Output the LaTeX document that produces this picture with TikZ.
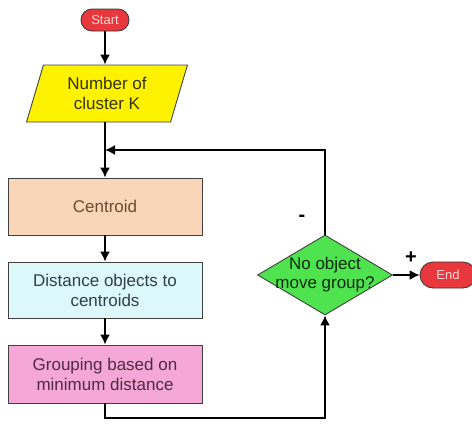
\documentclass[tikz,border=0pt]{standalone}
\usepackage{fontspec}
\setmainfont{Liberation Sans}
\usetikzlibrary{shapes.geometric,shapes.misc,arrows.meta}
\definecolor{termred}{HTML}{E8383D}
\definecolor{paryel}{HTML}{FFF200}
\definecolor{cenfill}{HTML}{FAD6B8}
\definecolor{disfill}{HTML}{DDF8FB}
\definecolor{grpfill}{HTML}{F5A8D8}
\definecolor{diafill}{HTML}{4FE34F}
\definecolor{centxt}{HTML}{6A4A30}
\definecolor{distxt}{HTML}{2F3E4E}
\definecolor{grptxt}{HTML}{4E2A44}
\definecolor{partxt}{HTML}{333300}
\definecolor{diatxt}{HTML}{0F2A0F}
\tikzset{
  term/.style={rounded rectangle, draw=black!80, line width=0.8pt, fill=termred,
    minimum width=48pt, minimum height=22pt, inner sep=0pt,
    font=\fontsize{13}{15}\selectfont, text=red!15},
  procbox/.style={rectangle, draw=black!75, line width=0.9pt,
    minimum width=194pt, minimum height=57pt, inner sep=0pt, align=center,
    font=\fontsize{17}{20}\selectfont},
  arr/.style={line width=1.7pt, -{Latex[length=10pt,width=10pt]}},
  lbl/.style={font=\fontsize{20}{22}\selectfont\bfseries}
}
\begin{document}
\begin{tikzpicture}[x=1pt,y=-1pt]
\useasboundingbox (0,0) rectangle (472,432);
% start
\node[term] (start) at (105,20) {Start};
% parallelogram
\node[trapezium, trapezium left angle=72, trapezium right angle=108,
  trapezium stretches=true, minimum width=162pt, minimum height=57pt,
  inner sep=0pt, draw=black!75, line width=0.9pt, fill=paryel,
  align=center, font=\fontsize{17}{20}\selectfont, text=partxt]
  (param) at (107,93.5) {Number of\\cluster K};
% process boxes
\node[procbox, fill=cenfill, text=centxt] (cen) at (105,206.5) {Centroid};
\node[procbox, fill=disfill, minimum height=56pt, text=distxt] (dis) at (105,290) {Distance objects to\\centroids};
\node[procbox, fill=grpfill, minimum height=58pt, text=grptxt] (grp) at (105,374) {Grouping based on\\minimum distance};
% decision
\node[diamond, draw=black!75, line width=0.9pt, fill=diafill,
  minimum width=135pt, minimum height=80pt, inner sep=0pt] (dia) at (325,275) {};
\node[align=center, font=\fontsize{17}{19}\selectfont, text=diatxt] (diatext) at (dia.center) {No object\\move group?};
% end
\node[term, minimum width=56pt, minimum height=26pt] (fin) at (448,275) {End};
% coordinates
\coordinate (j) at (105,150);
\coordinate (b1) at (105,418);
\coordinate (b2) at (325,418);
\coordinate (t2) at (325,150);
% connectors
\draw[arr] (start.south) -- (start.south |- param.north);
\draw[arr] (param.south -| j) -- (cen.north);
\draw[arr] (dia.north) -- (t2) -- (j);
\draw[arr] (cen.south) -- (dis.north);
\draw[arr] (dis.south) -- (grp.north);
\draw[arr] (grp.south) -- (b1) -- (b2) -- (dia.south);
\draw[arr] (dia.east) -- (fin.west);
% labels
\node[lbl] (minus) at (302,218) {-};
\node[lbl] (plus) at (411,258) {+};
\end{tikzpicture}
\end{document}
